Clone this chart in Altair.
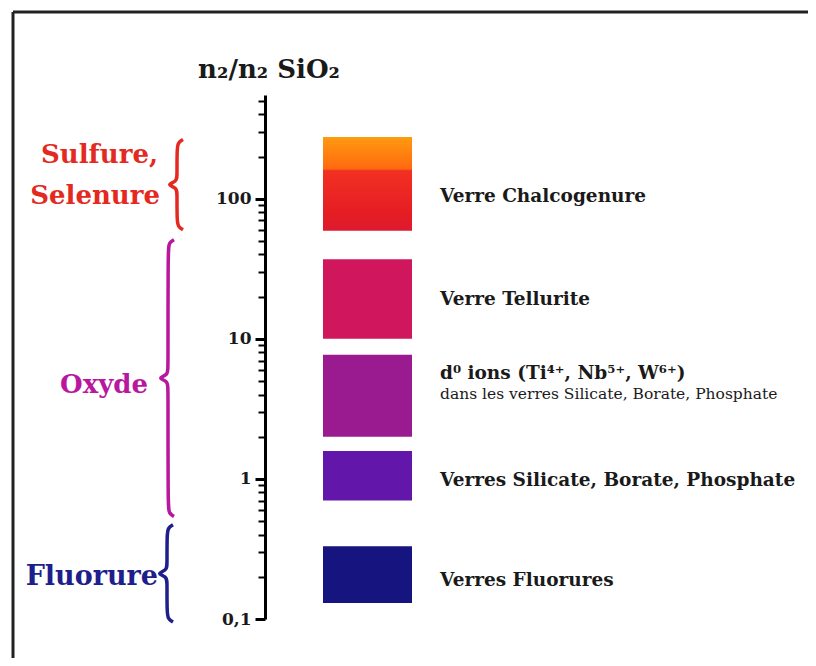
import math
import altair as alt
import pandas as pd

# ---------------- data ----------------
glass_labels = ["Verre Chalcogenure", "Verre Tellurite", "d⁰ ions (Ti⁴⁺, Nb⁵⁺, W⁶⁺)",
                "Verres Silicate, Borate, Phosphate", "Verres Fluorures"]
glass_low = [59, 10, 2.0, 0.70, 0.13]
glass_high = [276, 37, 7.7, 1.58, 0.33]
glass_colors = ["#e8201e", "#d0165c", "#9a1a90", "#6216aa", "#16147e"]
glass_label_dy = [12, 0, -23, 4, 5]          # pixel offsets of the labels
d0_subtext = "dans les verres Silicate, Borate, Phosphate"

family_lines = [["Sulfure,", "Selenure"], ["Oxyde"], ["Fluorure"]]
family_low = [60, 0.54, 0.095]
family_high = [265, 51, 0.47]
family_colors = ["#e42a20", "#b8189e", "#1e1e8c"]

tick_major = [0.1, 1, 10, 100]
tick_major_text = ["0,1", "1", "10", "100"]
y_domain = [0.1, 550]

# ---------------- layout ----------------
W, H = 535, 524
DECADE = H / (math.log10(y_domain[1]) - math.log10(y_domain[0]))
FONT = "DejaVu Serif"


def shift(v, px):
    """move a value by px pixels downward on the log axis"""
    return 10 ** (math.log10(v) - px / DECADE)


def geo(a, b):
    return math.sqrt(a * b)


yscale = alt.Scale(type="log", domain=y_domain, nice=False)
xscale = alt.Scale(domain=[0, W], nice=False, zero=False)

minor = []
for d in [0.1, 1, 10]:
    for k in range(1, 10):
        minor.append(round(k * d, 6))
minor += [100, 200, 300, 400, 500]

label_expr = " : ".join(
    f"datum.value == {v} ? '{t}'" for v, t in zip(tick_major, tick_major_text)
) + " : ''"
major_test = " || ".join(f"datum.value == {v}" for v in tick_major)

y_axis = alt.Axis(
    title=None, values=minor, labelExpr=label_expr, grid=False,
    domainColor="black", domainWidth=3, tickColor="black",
    tickWidth={"condition": {"test": major_test, "value": 3}, "value": 2},
    tickSize={"condition": {"test": major_test, "value": 10}, "value": 7},
    labelFont=FONT, labelFontWeight="bold", labelFontSize=17, labelColor="#1a1a1a",
    labelPadding=4, labelOverlap=False, labelFlush=False, orient="left",
)

# rects (without chalcogenure, drawn with gradient)
rect_df = pd.DataFrame({
    "label": glass_labels[1:], "low": glass_low[1:], "high": glass_high[1:],
    "col": glass_colors[1:],
})
rects = alt.Chart(rect_df).mark_rect().encode(
    x=alt.value(58), x2=alt.value(147),
    y=alt.Y("low:Q", scale=yscale, axis=y_axis), y2="high:Q",
    color=alt.Color("col:N", scale=None),
)

chal_df = pd.DataFrame({"low": [glass_low[0]], "high": [glass_high[0]]})
grad = alt.Gradient(
    gradient="linear", x1=0, x2=0, y1=0, y2=1,
    stops=[alt.GradientStop(color="#ff9a10", offset=0),
           alt.GradientStop(color="#ff6a10", offset=0.34),
           alt.GradientStop(color="#f23022", offset=0.36),
           alt.GradientStop(color="#e41c24", offset=0.85),
           alt.GradientStop(color="#dc1a30", offset=1)])
chal = alt.Chart(chal_df).mark_rect(color=grad).encode(
    x=alt.value(58), x2=alt.value(147),
    y=alt.Y("low:Q", scale=yscale, axis=y_axis), y2="high:Q",
)

# right labels
lab_df = pd.DataFrame({
    "text": glass_labels,
    "y": [shift(geo(l, h), d) for l, h, d in zip(glass_low, glass_high, glass_label_dy)],
})
labels = alt.Chart(lab_df).mark_text(
    align="left", baseline="middle", font=FONT, fontWeight="bold", fontSize=18.5,
    color="#1a1a1a",
).encode(x=alt.value(175), y=alt.Y("y:Q", scale=yscale, axis=y_axis), text="text:N")

sub_df = pd.DataFrame({"text": [d0_subtext],
                       "y": [shift(geo(glass_low[2], glass_high[2]), -2)]})
sublabel = alt.Chart(sub_df).mark_text(
    align="left", baseline="middle", font=FONT, fontSize=15.5, color="#1a1a1a",
).encode(x=alt.value(175), y=alt.Y("y:Q", scale=yscale, axis=y_axis), text="text:N")

# braces
brace_x = [-88, -97, -98]
shape = [(6, 0, "t"), (1, 3, "t"), (0, 10, "t"), (0, -10, "m"), (0, -3, "m"),
         (-11, 0, "m"), (0, 3, "m"), (0, 10, "m"), (0, -10, "b"), (1, -3, "b"),
         (6, 0, "b")]
rows = []
for f, (lo, hi, col, x0) in enumerate(zip(family_low, family_high, family_colors, brace_x)):
    anchors = {"t": hi, "b": lo, "m": geo(lo, hi)}
    for i, (dx, dy, a) in enumerate(shape):
        rows.append({"fam": f, "i": i, "bx": x0 + dx, "by": shift(anchors[a], dy), "col": col})
brace_df = pd.DataFrame(rows)
braces = alt.Chart(brace_df).mark_line(interpolate="basis", strokeWidth=3.5).encode(
    x=alt.X("bx:Q", scale=xscale, axis=None),
    y=alt.Y("by:Q", scale=yscale, axis=y_axis),
    order="i:Q", detail="fam:N", color=alt.Color("col:N", scale=None),
)

# left family labels
fam_x = [[-107, -105], [-117], [-107]]
fam_dy = [[-30, 11], [7], [4]]
fam_size = [[26, 26], [26], [27]]
frows = []
for lines, lo, hi, col, xs, dys, ss in zip(family_lines, family_low, family_high,
                                          family_colors, fam_x, fam_dy, fam_size):
    for t, x, d, s in zip(lines, xs, dys, ss):
        frows.append({"text": t, "lx": x, "y": shift(geo(lo, hi), d), "col": col, "s": s})
fam_df = pd.DataFrame(frows)
fam_labels = alt.Chart(fam_df).mark_text(
    align="right", baseline="middle", font=FONT, fontWeight="bold",
).encode(
    x=alt.X("lx:Q", scale=xscale, axis=None),
    y=alt.Y("y:Q", scale=yscale, axis=y_axis),
    text="text:N", color=alt.Color("col:N", scale=None),
    size=alt.Size("s:Q", scale=None, legend=None),
)

one = pd.DataFrame({"a": [0]})
title = alt.Chart(one).mark_text(
    text="n₂/n₂ SiO₂", font=FONT, fontWeight="bold", fontSize=26, color="#1a1a1a",
    align="center", baseline="middle",
).encode(x=alt.value(4), y=alt.value(-25))

frame_top = alt.Chart(one).mark_rule(color="#222222", strokeWidth=3).encode(
    x=alt.value(-252), x2=alt.value(543), y=alt.value(-83))
frame_left = alt.Chart(one).mark_rule(color="#222222", strokeWidth=3).encode(
    x=alt.value(-252), y=alt.value(-83), y2=alt.value(563))

chart = alt.layer(
    frame_top, frame_left, chal, rects, labels, sublabel, braces, fam_labels, title
).properties(
    width=W, height=H,
    autosize=alt.AutoSizeParams(type="none"),
    padding={"left": 257, "top": 87, "right": 8, "bottom": 39},
    background="white",
).configure_view(stroke=None)

chart.save("out.html", embed_options={"renderer": "svg", "actions": False})
